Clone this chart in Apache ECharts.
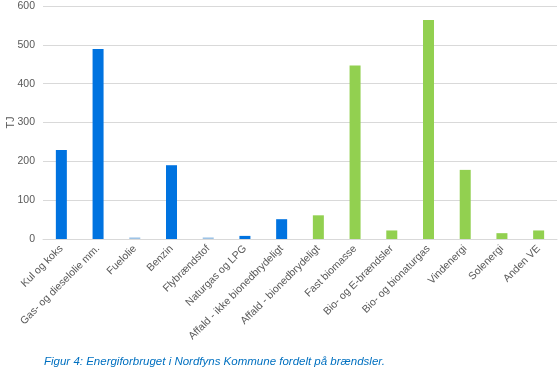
<!DOCTYPE html>
<html><head><meta charset="utf-8">
<script src="https://cdn.jsdelivr.net/npm/echarts@6/dist/echarts.min.js"></script>
<style>html,body{margin:0;padding:0;background:#fff}#c{width:560px;height:369px}</style>
</head><body><div id="c"></div>
<script>
const categories = ["Kul og koks","Gas- og dieselolie mm.","Fuelolie","Benzin","Flybrændstof","Naturgas og LPG","Affald - ikke bionedbrydeligt","Affald - bionedbrydeligt","Fast biomasse","Bio- og E-brændsler","Bio- og bionaturgas","Vindenergi","Solenergi","Anden VE"];
const values = [229, 489, 4, 190, 4, 8, 51, 61, 447, 22, 564, 178, 15, 22];
const groups = ["fossil","fossil","fossilLight","fossil","fossilLight","fossil","fossil","ve","ve","ve","ve","ve","ve","ve"];
const yTicks = [0, 100, 200, 300, 400, 500, 600];
const caption = "Figur 4: Energiforbruget i Nordfyns Kommune fordelt på brændsler.";
const palette = {fossil:"#0073e0", fossilLight:"#9dc3e6", ve:"#92d050"};

const chart = echarts.init(document.getElementById('c'));
chart.setOption({
  animation:false,
  textStyle:{fontFamily:"Liberation Sans, Arial, sans-serif"},
  graphic:[{type:'text', left:44, top:356, style:{text:caption, fill:'#0070c0', font:'italic 11.5px "Liberation Sans", Arial, sans-serif'}}],
  grid:{left:43, right:3, top:6, bottom:130, containLabel:false, outerBoundsMode:'none'},
  xAxis:{type:'category', data:categories,
    axisLine:{lineStyle:{color:'#d9d9d9', width:1}}, axisTick:{show:false},
    axisLabel:{interval:0, rotate:45, color:'#595959', fontSize:10.5, margin:8}},
  yAxis:{type:'value', min:yTicks[0], max:yTicks[yTicks.length-1], interval:100,
    name:'TJ', nameLocation:'middle', nameGap:27, nameMoveOverlap:false, nameTextStyle:{color:'#595959', fontSize:11},
    axisLine:{show:false}, axisTick:{show:false},
    axisLabel:{color:'#595959', fontSize:10.5, margin:8},
    splitLine:{lineStyle:{color:'#d9d9d9', width:1}}},
  series:[{type:'bar', barWidth:11,
    data: values.map((v,i)=>({value:v, itemStyle:{color:palette[groups[i]]}}))}]
});
</script></body></html>
